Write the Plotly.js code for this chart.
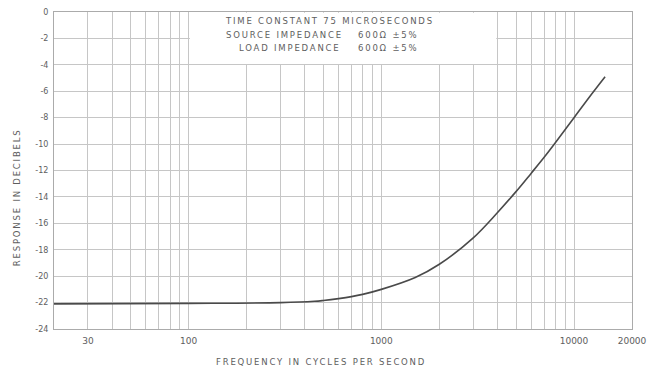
<!DOCTYPE html>
<html>
<head>
<meta charset="utf-8">
<script src="https://cdn.plot.ly/plotly-3.0.1.min.js"></script>
<style>
  html, body { margin: 0; padding: 0; background: #fff; }
  #chart { width: 648px; height: 369px; }
  .annotation-text { letter-spacing: 1.8px; }
</style>
</head>
<body>
<div id="chart"></div>
<script>
// Data
const frequencies = [20, 100, 300, 450, 500, 600, 700, 800, 1000, 1500, 2000, 3000, 4000, 5000, 6000, 7000, 8000, 10000, 12000, 14500];
const responseDb = [-22.1, -22.06, -22.0, -21.9, -21.84, -21.7, -21.55, -21.38, -21.0, -20.1, -19.1, -17.1, -15.2, -13.6, -12.2, -11.0, -9.9, -8.0, -6.45, -4.9];

// Axis grid / tick labels
const xGridValues = [20, 30, 40, 50, 60, 70, 80, 90, 100, 200, 300, 400, 500, 600, 700, 800, 900, 1000, 2000, 3000, 4000, 5000, 6000, 7000, 8000, 9000, 10000, 20000];
const xLabelledValues = [30, 100, 1000, 10000, 20000];
const yTickValues = [0, -2, -4, -6, -8, -10, -12, -14, -16, -18, -20, -22, -24];
const yTickLabels = ["0", "-2", "-4", "-6", "-8", "-10", "-12", "-14", "-16", "-18", "-20", "-22", "-24"];

// Texts
const boxLine1 = "TIME CONSTANT 75 MICROSECONDS";
const boxLabels = ["SOURCE IMPEDANCE", "LOAD IMPEDANCE"];
const boxValues = ["600Ω ±5%", "600Ω ±5%"];
const xTitle = "FREQUENCY IN CYCLES PER SECOND";
const yTitle = "RESPONSE IN DECIBELS";

const xTickText = xGridValues.map(v => xLabelledValues.includes(v) ? String(v) : "");

const textColor = "#5e5e5e";
const gridColor = "#c6c6c6";
const font = { family: "DejaVu Sans, sans-serif", size: 8.5, color: textColor };

const trace = {
  x: frequencies,
  y: responseDb,
  type: "scatter",
  mode: "lines",
  line: { color: "#4a4a4a", width: 1.6, shape: "spline", smoothing: 1 },
  hoverinfo: "skip",
  showlegend: false
};

const layout = {
  width: 648,
  height: 369,
  margin: { l: 54, r: 16, t: 12, b: 40 },
  paper_bgcolor: "#ffffff",
  plot_bgcolor: "#ffffff",
  showlegend: false,
  font: font,
  xaxis: {
    type: "log",
    range: [Math.log10(20), Math.log10(20000)],
    tickmode: "array",
    tickvals: xGridValues,
    ticktext: xTickText,
    showgrid: true,
    gridcolor: gridColor,
    gridwidth: 1,
    zeroline: false,
    showline: true,
    mirror: true,
    linecolor: "#ababab",
    linewidth: 1,
    ticks: "",
    ticklabelstandoff: 3,
    tickfont: { family: "DejaVu Sans, sans-serif", size: 9, color: textColor },
    fixedrange: true
  },
  yaxis: {
    range: [-24, 0],
    tickmode: "array",
    tickvals: yTickValues,
    ticktext: yTickLabels,
    showgrid: true,
    gridcolor: gridColor,
    gridwidth: 1,
    zeroline: false,
    showline: true,
    mirror: true,
    linecolor: "#ababab",
    linewidth: 1,
    ticks: "",
    ticklabelstandoff: 3,
    tickfont: { family: "DejaVu Sans, sans-serif", size: 8, color: textColor },
    fixedrange: true
  },
  shapes: [
    {
      type: "rect", layer: "between", xref: "x", yref: "y",
      x0: 101.5, x1: 3950, y0: -3.93, y1: -0.05,
      fillcolor: "#ffffff", line: { width: 0 }
    }
  ],
  annotations: [
    { text: boxLine1, xref: "paper", yref: "paper", x: 0.4775, y: 0.972, showarrow: false, xanchor: "center", yanchor: "middle", font: font },
    { text: boxLabels[0], xref: "paper", yref: "paper", x: 0.503, y: 0.927, showarrow: false, xanchor: "right", yanchor: "middle", font: font },
    { text: boxLabels[1], xref: "paper", yref: "paper", x: 0.498, y: 0.886, showarrow: false, xanchor: "right", yanchor: "middle", font: font },
    { text: boxValues[0], xref: "paper", yref: "paper", x: 0.522, y: 0.927, showarrow: false, xanchor: "left", yanchor: "middle", font: font },
    { text: boxValues[1], xref: "paper", yref: "paper", x: 0.522, y: 0.886, showarrow: false, xanchor: "left", yanchor: "middle", font: font },
    { text: xTitle, xref: "paper", yref: "paper", x: 0.462, y: -0.104, showarrow: false, xanchor: "center", yanchor: "middle", font: font },
    { text: yTitle, xref: "paper", yref: "paper", x: -0.064, y: 0.416, showarrow: false, xanchor: "center", yanchor: "middle", textangle: -90, font: font }
  ]
};

Plotly.newPlot("chart", [trace], layout, { staticPlot: true, displayModeBar: false });
</script>
</body>
</html>
